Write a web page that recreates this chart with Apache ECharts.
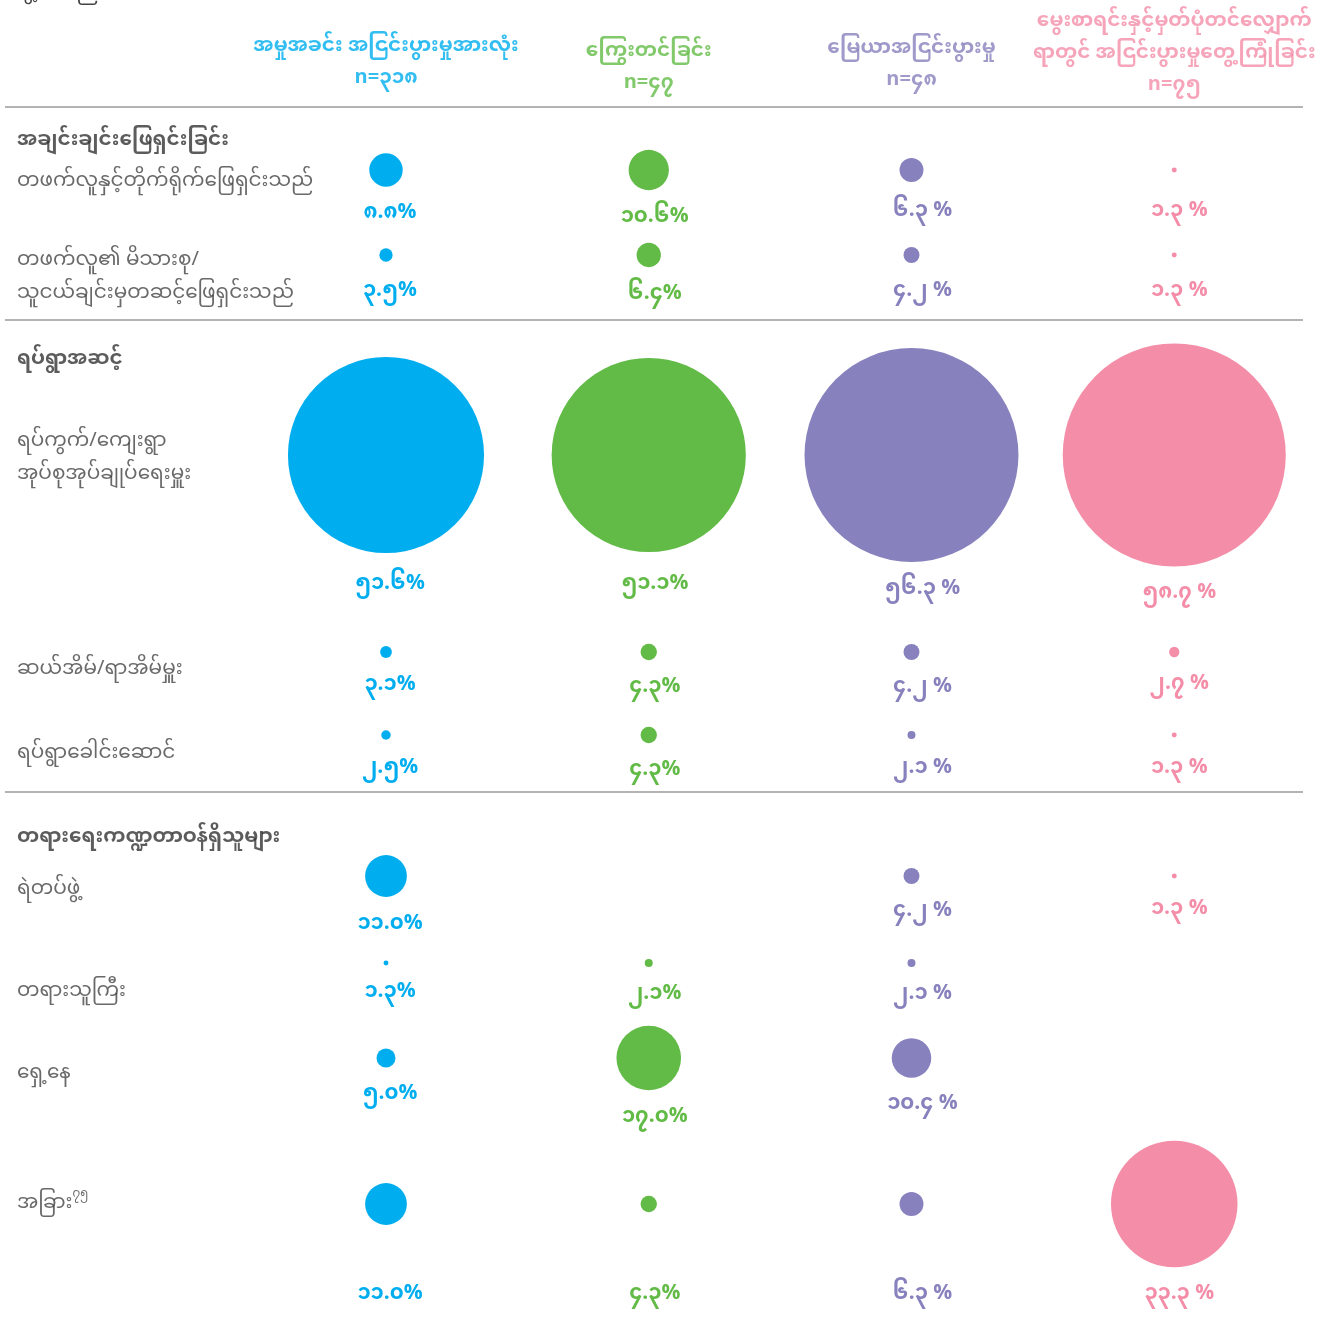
<!DOCTYPE html>
<html>
<head>
<meta charset="utf-8">
<title>အငြင်းပွားမှု ဖြေရှင်းသည့်နည်းလမ်းများ</title>
<script src="https://cdn.jsdelivr.net/npm/echarts@6/dist/echarts.min.js"></script>
<style>
  html, body { margin: 0; padding: 0; background: #ffffff; }
  #chart { width: 1338px; height: 1338px; }
</style>
</head>
<body>
<div id="chart"></div>
<script>
// ---- data ----
const columnNames = [
  'အမှုအခင်း အငြင်းပွားမှုအားလုံး',
  'ကြွေးတင်ခြင်း',
  'မြေယာအငြင်းပွားမှု',
  'မွေးစာရင်းနှင့်မှတ်ပုံတင်လျှောက်\nရာတွင် အငြင်းပွားမှုတွေ့ကြုံခြင်း'
];
const sampleSizes = ['၃၁၈', '၄၇', '၄၈', '၇၅'];

const sectionNames = [
  'အချင်းချင်းဖြေရှင်းခြင်း',
  'ရပ်ရွာအဆင့်',
  'တရားရေးကဏ္ဍတာဝန်ရှိသူများ'
];

const rowLabels = [
  'တဖက်လူနှင့်တိုက်ရိုက်ဖြေရှင်းသည်',
  'တဖက်လူ၏ မိသားစု/\nသူငယ်ချင်းမှတဆင့်ဖြေရှင်းသည်',
  'ရပ်ကွက်/ကျေးရွာ\nအုပ်စုအုပ်ချုပ်ရေးမှူး',
  'ဆယ်အိမ်/ရာအိမ်မှူး',
  'ရပ်ရွာခေါင်းဆောင်',
  'ရဲတပ်ဖွဲ့',
  'တရားသူကြီး',
  'ရှေ့နေ',
  'အခြား{sup|၇၅}'
];

// percentage of respondents per column (null = not reported)
const allDisputes = [8.8, 3.5, 51.6, 3.1, 2.5, 11.0, 1.3, 5.0, 11.0];
const debt        = [10.6, 6.4, 51.1, 4.3, 4.3, null, 2.1, 17.0, 4.3];
const land        = [6.3, 4.2, 56.3, 4.2, 2.1, 4.2, 2.1, 10.4, 6.3];
const idDocuments = [1.3, 1.3, 58.7, 2.7, 1.3, 1.3, null, null, 33.3];

const seriesValues = [allDisputes, debt, land, idDocuments];

// ---- layout & style ----
const colors = ['#00aeef', '#62bb46', '#8781bd', '#f48da8'];
const pctSuffix = ['%', '%', ' %', ' %'];
const labelShiftX = [4, 6, 11, 5];
const FONT = "'Noto Sans Myanmar', 'Padauk', 'Myanmar Text', 'Noto Sans', sans-serif";

// vertical slots (axis units = pixels of the 1338 canvas)
const rowY       = [170, 255, 455, 652, 735, 876, 963, 1058, 1204];
const rowLabelY  = [184, 279, 460, 672, 756, 892, 994, 1076, 1206];
const rowMinLabelGap = [38, 33, 126, 29, 30, 30, 25, 0, 87];
const sectionY   = [143, 362, 840];
const separatorY = [107, 320, 792];
const headerY    = [97, 102, 99, 104];

const X_MIN = -0.45, X_MAX = 4.49;
const RADIUS_PER_PCT = 1.9;

const mmDigits = '၀၁၂၃၄၅၆၇၈၉';
function toMyanmar(str) {
  return String(str).replace(/[0-9]/g, d => mmDigits[+d]);
}

const bubbleSeries = seriesValues.map((vals, ci) => ({
  name: columnNames[ci],
  type: 'scatter',
  clip: false,
  silent: true,
  data: vals.map((v, ri) => {
    if (v == null) return null;
    const r = v * RADIUS_PER_PCT;
    const centerGap = Math.max(rowMinLabelGap[ri], r + 24);
    return {
      value: [ci + 1, rowY[ri], v],
      label: { distance: centerGap - r - 5 }
    };
  }).filter(d => d),
  symbol: 'circle',
  symbolSize: d => d[2] * RADIUS_PER_PCT * 2,
  itemStyle: { color: colors[ci], opacity: 1 },
  label: {
    show: true,
    position: 'bottom',
    offset: [labelShiftX[ci], 0],
    formatter: p => toMyanmar(p.value[2].toFixed(1)) + pctSuffix[ci],
    color: colors[ci],
    fontFamily: FONT,
    fontSize: 21,
    fontWeight: 'bold'
  }
}));

const headerSeries = {
  type: 'scatter',
  silent: true,
  clip: false,
  symbolSize: 0,
  data: columnNames.map((name, ci) => ({
    value: [ci + 1, headerY[ci]],
    label: {
      formatter: name + '\nn=' + sampleSizes[ci],
      color: colors[ci]
    }
  })),
  label: {
    show: true,
    position: 'top',
    distance: 0,
    align: 'center',
    fontFamily: FONT,
    fontSize: 20,
    fontWeight: 'bold',
    lineHeight: 32
  }
};

const rowLabelSeries = {
  type: 'scatter',
  silent: true,
  clip: false,
  symbolSize: 0,
  data: rowLabels.map((name, ri) => ({ value: [X_MIN, rowLabelY[ri]], name })),
  label: {
    show: true,
    position: 'right',
    distance: 12,
    formatter: p => p.name,
    color: '#444444',
    fontFamily: FONT,
    fontSize: 20,
    lineHeight: 33,
    align: 'left',
    rich: {
      sup: { fontSize: 12, verticalAlign: 'top', color: '#444444', padding: [0, 0, 12, 0] }
    }
  }
};

const sectionSeries = {
  type: 'scatter',
  silent: true,
  clip: false,
  symbolSize: 0,
  data: sectionNames.map((name, si) => ({ value: [X_MIN, sectionY[si]], name })),
  label: {
    show: true,
    position: 'right',
    distance: 12,
    formatter: p => p.name,
    color: '#333333',
    fontFamily: FONT,
    fontSize: 20,
    fontWeight: 'bold'
  },
  markLine: {
    silent: true,
    symbol: 'none',
    label: { show: false },
    lineStyle: { color: '#9a9a9a', width: 1.5, type: 'solid' },
    data: separatorY.map(y => ({ yAxis: y }))
  }
};

const chart = echarts.init(document.getElementById('chart'), null, { renderer: 'canvas' });
chart.setOption({
  backgroundColor: '#ffffff',
  animation: false,
  grid: { left: 5, width: 1298, top: 0, height: 1338 },
  xAxis: { type: 'value', min: X_MIN, max: X_MAX, show: false },
  yAxis: { type: 'value', min: 0, max: 1338, inverse: true, show: false },
  graphic: [{
    type: 'text',
    left: 0,
    top: -16,
    style: {
      text: 'တွေ့ပါသည်။',
      fill: '#444444',
      font: '20px ' + FONT
    }
  }],
  series: [headerSeries, sectionSeries, rowLabelSeries, ...bubbleSeries]
});
</script>
</body>
</html>
